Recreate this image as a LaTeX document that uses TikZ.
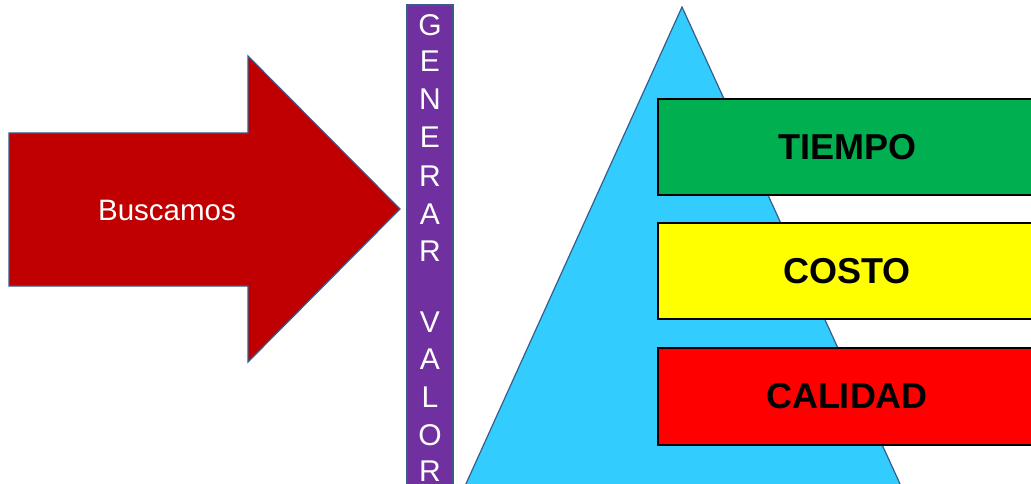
\documentclass[tikz,border=0pt]{standalone}
\usepackage{fontspec}
\setmainfont{Liberation Sans}
\definecolor{arrowred}{HTML}{C00000}
\definecolor{outlineblue}{HTML}{385D8A}
\definecolor{barpurple}{HTML}{7030A0}
\definecolor{trianglecyan}{HTML}{33CCFF}
\definecolor{boxgreen}{HTML}{00B050}
\definecolor{boxyellow}{HTML}{FFFF00}
\definecolor{boxred}{HTML}{FF0000}
\tikzset{
  shapeline/.style={draw=outlineblue, line width=1.2pt, line join=miter},
  levelbox/.style={draw=black, line width=1.8pt},
  leveltext/.style={font=\fontsize{36}{40}\selectfont\bfseries, text=black, anchor=center, inner sep=0pt},
  barletter/.style={font=\fontsize{30}{36}\selectfont, text=white, anchor=base, inner sep=0pt},
}
\begin{document}
\begin{tikzpicture}[x=1pt,y=-1pt]
  \clip (0,0) rectangle (1031,484);
  \fill[white] (0,0) rectangle (1031,484);
  % arrow
  \path[shapeline, fill=arrowred]
    (9,133) -- (248,133) -- (248,56) -- (400,209) -- (248,362) -- (248,286) -- (9,286) -- cycle;
  \node[font=\fontsize{29.5}{33}\selectfont, text=white, anchor=base, inner sep=0pt] (busc) at (167,220) {Buscamos};
  % purple bar
  \path[shapeline, fill=barpurple] (407,5) rectangle (453,500);
  \foreach \ch/\yc [count=\i] in {G/25,E/61,N/99,E/137,R/175,A/213,R/250,V/321,A/358,L/396,O/434,R/470}{
    \node[barletter] (let\i) at (430,\yc+11) {\ch};
  }
  % triangle
  \path[shapeline, fill=trianglecyan] (682,7) -- (906,497) -- (460,497) -- cycle;
  % boxes
  \node[levelbox, fill=boxgreen, minimum width=400pt, minimum height=96pt, anchor=north west, inner sep=0pt] (tiempo) at (657,98) {};
  \node[levelbox, fill=boxyellow, minimum width=400pt, minimum height=96pt, anchor=north west, inner sep=0pt] (costo) at (657,222) {};
  \node[levelbox, fill=boxred, minimum width=400pt, minimum height=97pt, anchor=north west, inner sep=0pt] (calidad) at (657,347) {};
  \node[leveltext] (tiempot) at (847,147) {TIEMPO};
  \node[leveltext] (costot) at (847,271) {COSTO};
  \node[leveltext] (calidadt) at (847,396) {CALIDAD};
\end{tikzpicture}
\end{document}
